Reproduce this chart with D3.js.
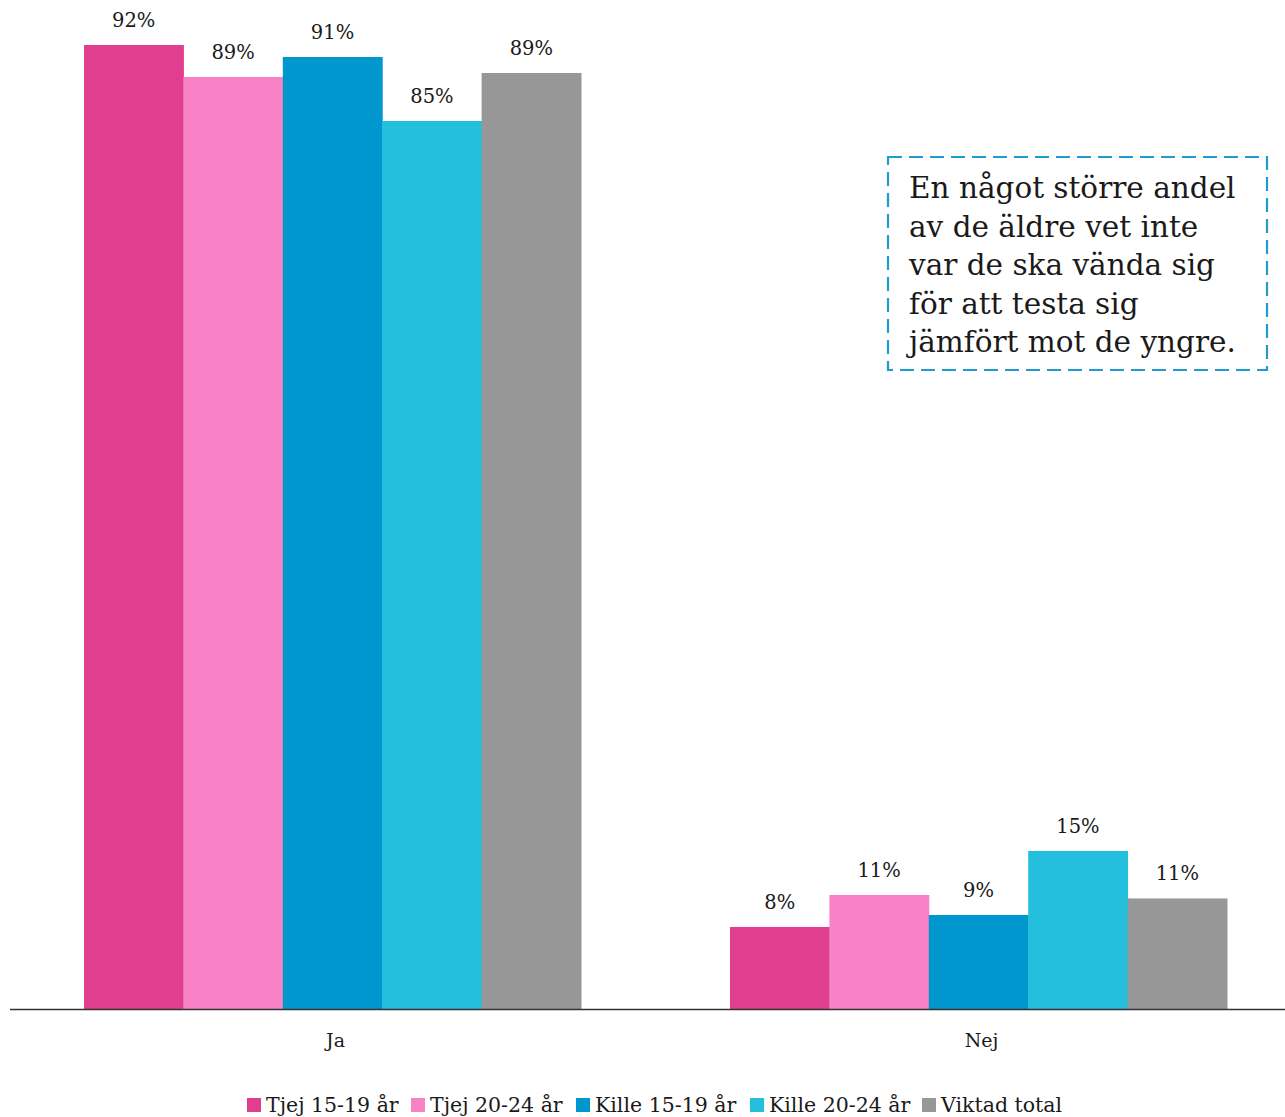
<!DOCTYPE html>
<html><head><meta charset="utf-8">
<script src="https://cdn.jsdelivr.net/npm/d3@7"></script>
<style>body{margin:0;background:#fff}svg{display:block}text{font-family:"DejaVu Serif",serif;fill:#1a1a1a}</style>
</head><body>
<script>
const categories = ["Ja", "Nej"];
const seriesNames = ["Tjej 15-19 år", "Tjej 20-24 år", "Kille 15-19 år", "Kille 20-24 år", "Viktad total"];
const tjej1519 = [92.0, 7.83];
const tjej2024 = [88.95, 10.88];
const kille1519 = [90.86, 8.97];
const kille2024 = [84.75, 15.08];
const viktad = [89.33, 10.55];
const seriesValues = [tjej1519, tjej2024, kille1519, kille2024, viktad];
const colors = ["#E03E8F", "#F782C6", "#0097CF", "#25BFDE", "#979797"];
const annotation = ["En något större andel", "av de äldre vet inte", "var de ska vända sig", "för att testa sig", "jämfört mot de yngre."];

const W = 1285, H = 1117;
const svg = d3.select("body").append("svg").attr("width", W).attr("height", H);

const baseY = 1009;
const x0 = d3.scaleBand().domain(categories).range([9.5, 1301.5]).padding(0);
const x1 = d3.scaleBand().domain(seriesNames).range([74.5, 571.5]).padding(0);
const y = d3.scaleLinear().domain([0, 100]).range([baseY, baseY - 1047.8]);
const fmt = d3.format(".0f");

const groups = svg.selectAll("g.grp").data(categories).enter().append("g")
  .attr("transform", d => `translate(${x0(d)},0)`);

groups.each(function(cat, ci) {
  const g = d3.select(this);
  const data = seriesNames.map((s, si) => ({s, v: seriesValues[si][ci], c: colors[si]}));
  g.selectAll("rect").data(data).enter().append("rect")
    .attr("x", d => x1(d.s)).attr("width", x1.bandwidth() + 0.5)
    .attr("y", d => y(d.v)).attr("height", d => y(0) - y(d.v))
    .attr("fill", d => d.c);
  g.selectAll("text.lbl").data(data).enter().append("text")
    .attr("x", d => x1(d.s) + x1.bandwidth() / 2)
    .attr("y", d => y(d.v) - 18)
    .attr("text-anchor", "middle").attr("font-size", 19.5)
    .text(d => fmt(d.v) + "%");
});

const xAxis = d3.axisBottom(x0).tickSize(0).tickPadding(25);
const ax = svg.append("g").attr("transform", `translate(0,${baseY})`).call(xAxis);
ax.select(".domain").remove();
ax.selectAll("text").attr("font-size", 19).attr("fill", "#1a1a1a").attr("dx", 3).style("font-family", '"DejaVu Serif",serif');
svg.append("line").attr("x1", 10).attr("x2", W).attr("y1", baseY + 0.5).attr("y2", baseY + 0.5)
  .attr("stroke", "#333").attr("stroke-width", 1.3);

// annotation
svg.append("rect").attr("x", 888).attr("y", 157).attr("width", 379).attr("height", 213)
  .attr("fill", "none").attr("stroke", "#1F9BD1").attr("stroke-width", 2.2)
  .attr("stroke-dasharray", "14,7");
svg.append("text").attr("x", 909).attr("y", 198).attr("font-size", 29.5)
  .selectAll("tspan").data(annotation).enter().append("tspan")
  .attr("x", 909).attr("dy", (d, i) => i === 0 ? 0 : 38.5).text(d => d);

// legend
const legendX = [247, 411, 576, 750, 922];
const lg = svg.append("g");
seriesNames.forEach((s, i) => {
  lg.append("rect").attr("x", legendX[i]).attr("y", 1098).attr("width", 14).attr("height", 14).attr("fill", colors[i]);
  lg.append("text").attr("x", legendX[i] + 19).attr("y", 1112).attr("font-size", 20.5).text(s);
});
</script>
</body></html>
